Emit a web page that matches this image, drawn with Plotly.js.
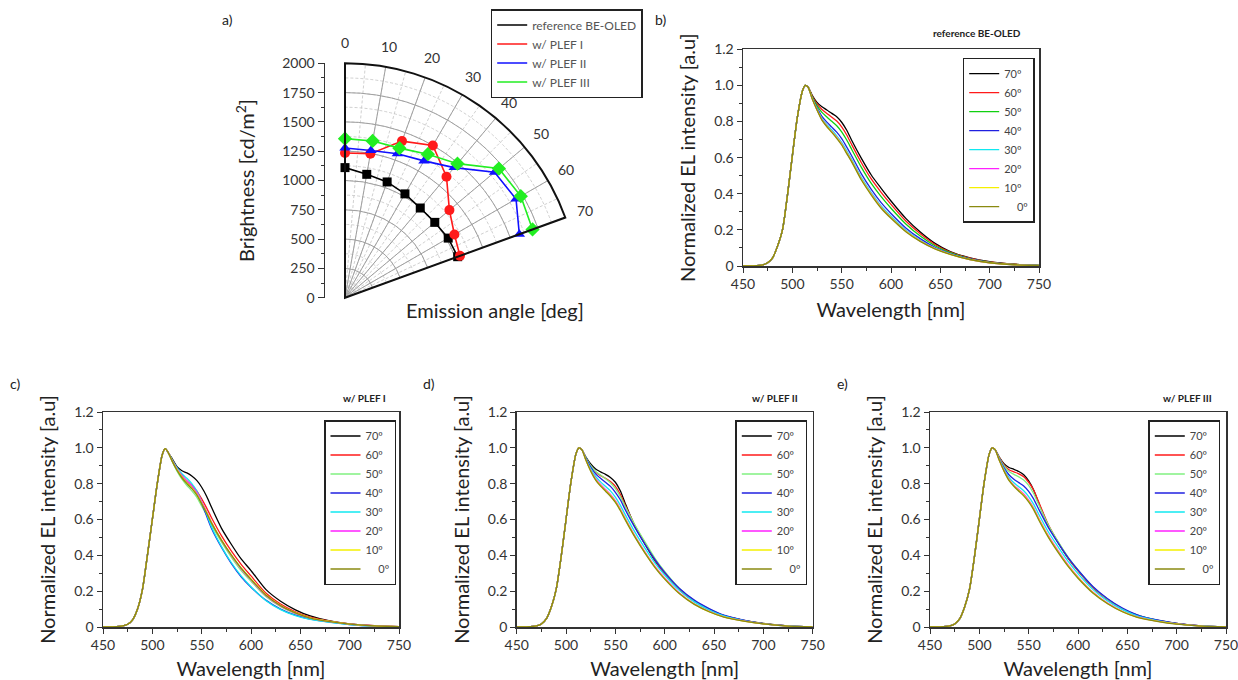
<!DOCTYPE html>
<html><head><meta charset="utf-8">
<script src="https://cdn.plot.ly/plotly-3.0.1.min.js"></script>
<style>html,body{margin:0;padding:0;background:#fff}#chart{width:1238px;height:680px}</style>
</head><body><div id="chart"></div>
<script>
// ---------- Panel a: brightness vs emission angle ----------
const angles   = [0,10,20,30,40,50,60,70];
const brRef    = [1110,1069,1051,1023,999,1000,1017,1023];
const brPlef1  = [1235,1248,1422,1499,1347,1163,1078,1044];
const brPlef2  = [1277,1275,1307,1348,1449,1666,1685,1583];
const brPlef3  = [1357,1358,1358,1414,1493,1714,1732,1703];
const polarNames   = ['reference BE-OLED','w/ PLEF I','w/ PLEF II','w/ PLEF III'];
const polarColors  = ['#000000','#ff1a1a','#1010ff','#22ee22'];
const polarSymbols = ['square','circle','triangle-up','diamond'];
const polarSizes   = [9,10,10,11];
const angleTicks   = ['0','10','20','30','40','50','60','70'];

// ---------- Spectra ----------
const riseWl = [450,460,470,475,480,485,490,495,500,505,510,513,516];
const fallWl = [520,525,530,535,540,545,550,555,560,570,580,590,600,615,630,645,660,680,700,725,750];
const angleLabels = ['70º','60º','50º','40º','30º','20º','10º','\u2007\u20070º'];

// b) reference BE-OLED
const riseB = [0,0.001,0.006,0.018,0.045,0.11,0.20,0.39,0.61,0.82,0.965,1.0,0.99];
const b70 = [0.947,0.906,0.882,0.864,0.845,0.827,0.796,0.753,0.698,0.596,0.504,0.430,0.360,0.264,0.187,0.124,0.080,0.045,0.024,0.010,0.003];
const b60 = [0.943,0.898,0.867,0.845,0.824,0.803,0.771,0.727,0.674,0.572,0.482,0.408,0.341,0.249,0.177,0.118,0.077,0.044,0.023,0.010,0.003];
const b50 = [0.939,0.888,0.851,0.825,0.801,0.777,0.743,0.699,0.648,0.546,0.457,0.384,0.320,0.233,0.165,0.111,0.074,0.041,0.022,0.009,0.003];
const b40 = [0.933,0.876,0.829,0.797,0.769,0.741,0.705,0.660,0.612,0.510,0.424,0.351,0.291,0.211,0.150,0.102,0.069,0.039,0.020,0.008,0.002];
const b30 = [0.930,0.869,0.817,0.782,0.753,0.721,0.685,0.639,0.592,0.490,0.406,0.333,0.276,0.199,0.141,0.098,0.067,0.037,0.019,0.007,0.002];
const b20 = [0.929,0.866,0.812,0.776,0.745,0.713,0.676,0.630,0.584,0.482,0.399,0.326,0.269,0.194,0.138,0.096,0.066,0.036,0.018,0.007,0.002];
const b10 = [0.929,0.865,0.810,0.774,0.743,0.711,0.674,0.628,0.582,0.480,0.396,0.323,0.267,0.192,0.137,0.095,0.065,0.036,0.018,0.007,0.002];
const b0  = [0.928,0.864,0.808,0.771,0.740,0.707,0.670,0.624,0.578,0.476,0.393,0.320,0.264,0.190,0.135,0.094,0.065,0.036,0.018,0.007,0.002];

// c) w/ PLEF I
const riseC = [0,0.001,0.006,0.015,0.04,0.10,0.21,0.40,0.60,0.80,0.96,0.995,0.975];
const c70 = [0.940,0.895,0.872,0.860,0.843,0.818,0.780,0.730,0.668,0.552,0.462,0.380,0.315,0.210,0.144,0.096,0.062,0.034,0.018,0.007,0.002];
const c60 = [0.935,0.885,0.845,0.815,0.790,0.760,0.715,0.665,0.610,0.510,0.425,0.350,0.285,0.190,0.128,0.085,0.055,0.033,0.017,0.007,0.002];
const c50 = [0.925,0.870,0.825,0.790,0.760,0.725,0.675,0.625,0.570,0.475,0.390,0.315,0.255,0.170,0.113,0.075,0.049,0.030,0.016,0.006,0.002];
const c40 = [0.930,0.880,0.840,0.810,0.785,0.745,0.690,0.620,0.550,0.445,0.355,0.280,0.222,0.150,0.100,0.066,0.044,0.027,0.014,0.005,0.002];
const c30 = [0.935,0.890,0.855,0.830,0.800,0.760,0.700,0.630,0.558,0.450,0.360,0.285,0.225,0.148,0.097,0.063,0.042,0.026,0.014,0.005,0.002];
const c20 = [0.930,0.883,0.845,0.815,0.788,0.752,0.700,0.645,0.585,0.485,0.400,0.325,0.263,0.176,0.117,0.078,0.050,0.030,0.016,0.006,0.002];
const c10 = [0.928,0.878,0.838,0.806,0.778,0.742,0.692,0.640,0.583,0.487,0.403,0.330,0.268,0.180,0.120,0.080,0.051,0.031,0.016,0.006,0.002];
const c0  = [0.927,0.875,0.833,0.800,0.772,0.737,0.688,0.636,0.580,0.485,0.402,0.328,0.266,0.179,0.119,0.079,0.050,0.030,0.016,0.006,0.002];

// d) w/ PLEF II
const riseD = [0,0.001,0.006,0.017,0.045,0.11,0.21,0.39,0.60,0.81,0.965,1.0,0.99];
const d70 = [0.950,0.910,0.882,0.866,0.852,0.835,0.808,0.760,0.690,0.560,0.462,0.370,0.298,0.210,0.145,0.100,0.063,0.037,0.020,0.006,0.001];
const d60 = [0.945,0.900,0.865,0.845,0.830,0.812,0.785,0.740,0.680,0.565,0.468,0.375,0.300,0.208,0.142,0.097,0.063,0.037,0.019,0.006,0.001];
const d50 = [0.947,0.900,0.868,0.848,0.828,0.805,0.772,0.728,0.672,0.568,0.475,0.385,0.310,0.215,0.148,0.100,0.064,0.037,0.019,0.006,0.001];
const d40 = [0.943,0.893,0.855,0.830,0.808,0.785,0.752,0.710,0.655,0.553,0.462,0.378,0.305,0.215,0.150,0.103,0.066,0.038,0.019,0.006,0.001];
const d30 = [0.938,0.883,0.840,0.810,0.785,0.760,0.725,0.680,0.627,0.528,0.440,0.358,0.290,0.203,0.140,0.095,0.062,0.036,0.018,0.006,0.001];
const d20 = [0.935,0.875,0.828,0.795,0.768,0.740,0.705,0.660,0.607,0.508,0.420,0.340,0.274,0.190,0.130,0.088,0.057,0.034,0.017,0.005,0.001];
const d10 = [0.934,0.872,0.823,0.790,0.762,0.735,0.700,0.655,0.602,0.503,0.415,0.336,0.270,0.187,0.128,0.086,0.056,0.033,0.017,0.005,0.001];
const d0  = [0.933,0.870,0.820,0.786,0.758,0.730,0.695,0.650,0.598,0.500,0.412,0.333,0.267,0.185,0.126,0.085,0.055,0.033,0.017,0.005,0.001];

// e) w/ PLEF III
const riseE = [0,0.001,0.006,0.017,0.045,0.11,0.21,0.39,0.60,0.81,0.965,1.0,0.99];
const e70 = [0.950,0.912,0.890,0.880,0.868,0.850,0.815,0.765,0.695,0.565,0.470,0.385,0.315,0.222,0.155,0.102,0.066,0.038,0.020,0.006,0.001];
const e60 = [0.948,0.905,0.878,0.866,0.855,0.838,0.808,0.765,0.700,0.570,0.472,0.385,0.313,0.220,0.152,0.100,0.065,0.037,0.019,0.006,0.001];
const e50 = [0.946,0.900,0.868,0.852,0.838,0.820,0.790,0.745,0.685,0.568,0.475,0.390,0.318,0.224,0.155,0.103,0.066,0.038,0.019,0.006,0.001];
const e40 = [0.942,0.890,0.850,0.825,0.806,0.787,0.757,0.715,0.660,0.555,0.468,0.387,0.318,0.226,0.158,0.106,0.068,0.039,0.020,0.006,0.001];
const e30 = [0.938,0.882,0.835,0.805,0.783,0.760,0.728,0.686,0.632,0.530,0.446,0.366,0.298,0.210,0.145,0.097,0.062,0.036,0.018,0.006,0.001];
const e20 = [0.935,0.875,0.825,0.792,0.767,0.742,0.708,0.665,0.610,0.510,0.425,0.347,0.280,0.195,0.133,0.088,0.056,0.033,0.017,0.005,0.001];
const e10 = [0.934,0.872,0.821,0.788,0.762,0.736,0.702,0.660,0.605,0.505,0.420,0.342,0.276,0.192,0.131,0.086,0.055,0.033,0.017,0.005,0.001];
const e0  = [0.933,0.870,0.818,0.785,0.758,0.732,0.698,0.655,0.600,0.500,0.415,0.338,0.272,0.190,0.130,0.085,0.054,0.032,0.016,0.005,0.001];

const colorsB   = ['#000000','#ff1a1a','#10d010','#2020e0','#10e8f0','#ff20ff','#f5f000','#8a8a10'];
const colorsCDE = ['#000000','#ff1a1a','#80f080','#2020e0','#10e8f0','#ff20ff','#f5f000','#8a8a10'];

const panelTitles = ['reference BE-OLED','w/ PLEF I','w/ PLEF II','w/ PLEF III'];

// ---------- build traces ----------
const traces = [];
// invisible trace that anchors the dashed background grid subplot
traces.push({type:'scatterpolar', subplot:'polar', mode:'lines', r:brRef, theta:angles,
  showlegend:false, opacity:0, line:{width:0}, hoverinfo:'skip'});
// invisible trace that anchors the separate brightness scale
traces.push({type:'scatter', mode:'markers', x:brRef.map(() => 0), y:brRef, xaxis:'x5', yaxis:'y5',
  showlegend:false, opacity:0, marker:{size:1}, hoverinfo:'skip'});

const polarSeries = [brRef, brPlef1, brPlef2, brPlef3];
polarSeries.forEach((r, i) => {
  traces.push({type:'scatterpolar', subplot:'polar2', mode:'lines', r:r, theta:angles,
    name:polarNames[i], legend:'legend', line:{color:polarColors[i], width:1.6},
    hoverinfo:'skip'});
});
polarSeries.forEach((r, i) => {
  traces.push({type:'scatterpolar', subplot:'polar2', mode:'markers', r:r, theta:angles,
    showlegend:false, marker:{symbol:polarSymbols[i], size:polarSizes[i], color:polarColors[i]},
    hoverinfo:'skip'});
});

function addSpectra(rise, falls, colors, xa, ya, lg){
  falls.forEach((f, i) => {
    traces.push({type:'scatter', mode:'lines', x:riseWl.concat(fallWl), y:rise.concat(f),
      xaxis:xa, yaxis:ya, legend:lg, name:angleLabels[i],
      line:{color:colors[i], width:1.3, shape:'spline', smoothing:0.7}, hoverinfo:'skip'});
  });
}
addSpectra(riseB, [b70,b60,b50,b40,b30,b20,b10,b0], colorsB,   'x',  'y',  'legend2');
addSpectra(riseC, [c70,c60,c50,c40,c30,c20,c10,c0], colorsCDE, 'x2', 'y2', 'legend3');
addSpectra(riseD, [d70,d60,d50,d40,d30,d20,d10,d0], colorsCDE, 'x3', 'y3', 'legend4');
addSpectra(riseE, [e70,e60,e50,e40,e30,e20,e10,e0], colorsCDE, 'x4', 'y4', 'legend5');

// ---------- layout helpers ----------
const W = 1238, H = 680;
const px = v => v / W;
const py = v => 1 - v / H;
const FONT = 'Lato, "Open Sans", sans-serif';
const AX = '#333';

function xAxis(x0, x1, anchor){
  return {domain:[px(x0), px(x1)], anchor:anchor, range:[450,750], tickmode:'linear', tick0:450, dtick:50,
    ticks:'outside', ticklen:5, tickwidth:1, tickcolor:AX,
    minor:{tickmode:'linear', tick0:450, dtick:25, ticks:'outside', ticklen:3, tickcolor:AX},
    showline:true, mirror:true, linecolor:AX, linewidth:1.5, showgrid:false, zeroline:false,
    tickfont:{size:14, color:'#333'}, automargin:false, ticklabeloverflow:'allow',
    title:{text:'Wavelength [nm]', font:{size:20, color:'#222'}, standoff:11}};
}
function yAxis(y0, y1, anchor){
  return {domain:[py(y1), py(y0)], anchor:anchor, range:[0,1.2], tickmode:'array',
    tickvals:[0,0.2,0.4,0.6,0.8,1.0,1.2], ticktext:['0','0.2','0.4','0.6','0.8','1.0','1.2'],
    ticks:'outside', ticklen:5, tickwidth:1, tickcolor:AX,
    minor:{tickmode:'linear', tick0:0, dtick:0.1, ticks:'outside', ticklen:3, tickcolor:AX},
    showline:true, mirror:true, linecolor:AX, linewidth:1.5, showgrid:false, zeroline:false,
    tickfont:{size:14, color:'#333'}, automargin:false, ticklabeloverflow:'allow',
    title:{text:'Normalized EL intensity [a.u]', font:{size:20, color:'#222'}, standoff:13}};
}
function specLegend(x0, y0){
  return {x:px(x0), y:py(y0), xanchor:'left', yanchor:'top', bgcolor:'#fff',
    bordercolor:'#222', borderwidth:1.5, font:{size:11, color:'#444', family:FONT},
    tracegroupgap:0};
}
function ann(text, x, y, size, extra){
  return Object.assign({text:text, x:px(x), y:py(y), xref:'paper', yref:'paper',
    showarrow:false, xanchor:'center', yanchor:'middle', font:{size:size, color:'#222', family:FONT}}, extra||{});
}

const polarCx = 345, polarCy = 297.7, polarR = 234.4;
const polarDomain = {x:[px(polarCx), px(polarCx + polarR*Math.cos(20*Math.PI/180))], y:[py(polarCy), py(polarCy - polarR)]};

// angular tick labels placed just outside the arc
const angleAnns = angles.map((a, i) => {
  const t = a * Math.PI / 180, R = polarR + 21;
  return ann(angleTicks[i], polarCx + R*Math.sin(t), polarCy - R*Math.cos(t), 14, {font:{size:14, color:'#333', family:FONT}});
});

const layout = {
  width:W, height:H, margin:{l:0, r:0, t:0, b:0},
  paper_bgcolor:'#fff', plot_bgcolor:'rgba(0,0,0,0)',
  font:{family:FONT, color:'#333', size:14},
  showlegend:true,
  polar:{domain:polarDomain, sector:[20,90], bgcolor:'#fff',
    angularaxis:{rotation:90, direction:'clockwise', tickmode:'linear', tick0:0, dtick:5,
      showgrid:true, gridcolor:'#c4c4c4', griddash:'3px,2px', gridwidth:0.8,
      showline:false, ticks:'', showticklabels:false},
    radialaxis:{range:[0,2000], tickmode:'linear', tick0:0, dtick:125, showgrid:true,
      gridcolor:'#c4c4c4', griddash:'3px,2px', gridwidth:0.8, showline:false, showticklabels:false, ticks:''}},
  polar2:{domain:polarDomain, sector:[20,90], bgcolor:'rgba(0,0,0,0)',
    angularaxis:{rotation:90, direction:'clockwise', tickmode:'linear', tick0:0, dtick:10,
      showgrid:true, gridcolor:'#a0a0a0', gridwidth:1, showline:true, linecolor:'#111', linewidth:2,
      ticks:'', showticklabels:false},
    radialaxis:{range:[0,2000], tickmode:'linear', tick0:0, dtick:250, showgrid:true,
      gridcolor:'#a0a0a0', gridwidth:1, showline:false, showticklabels:false, ticks:''}},
  xaxis:  xAxis(743, 1039, 'y'),
  yaxis:  yAxis(49.3, 266, 'x'),
  xaxis2: xAxis(103, 399, 'y2'),
  yaxis2: yAxis(412, 627, 'x2'),
  xaxis3: xAxis(516.7, 812.7, 'y3'),
  yaxis3: yAxis(412, 627, 'x3'),
  xaxis4: xAxis(930, 1226, 'y4'),
  yaxis4: yAxis(412, 627, 'x4'),
  xaxis5: {domain:[px(325), px(327)], anchor:'y5', visible:false, range:[-1,1], fixedrange:true},
  yaxis5: {domain:[py(polarCy), py(polarCy - polarR)], anchor:'x5', range:[0,2000], tickmode:'linear', tick0:0, dtick:250,
    ticks:'outside', ticklen:6, tickcolor:AX,
    minor:{tickmode:'linear', tick0:0, dtick:125, ticks:'outside', ticklen:3, tickcolor:AX},
    showline:true, linecolor:AX, linewidth:1.5, showgrid:false, zeroline:false,
    tickfont:{size:14, color:'#333'}, automargin:false,
    title:{text:'Brightness [cd/m<sup>2</sup>]', font:{size:20, color:'#222'}, standoff:22}},
  legend:{x:px(490.7), y:py(9), xanchor:'left', yanchor:'top', bgcolor:'#fff',
    bordercolor:'#222', borderwidth:1.5, font:{size:12, color:'#555', family:FONT}},
  legend2: specLegend(962.7, 57.7),
  legend3: specLegend(324, 420),
  legend4: specLegend(735.3, 420),
  legend5: specLegend(1148.3, 420),
  annotations:[
    ann('a)', 227, 19, 14),
    ann('b)', 660, 19, 14),
    ann('c)', 15, 383, 14),
    ann('d)', 429, 383, 14),
    ann('e)', 842, 383, 14),
    ann('<b>'+panelTitles[0]+'</b>', 976.7, 33.3, 10),
    ann('<b>'+panelTitles[1]+'</b>', 364, 397.7, 10),
    ann('<b>'+panelTitles[2]+'</b>', 775, 397.7, 10),
    ann('<b>'+panelTitles[3]+'</b>', 1187.5, 397.7, 10),
    ann('Emission angle [deg]', 495, 310, 20)
  ].concat(angleAnns)
};

Plotly.newPlot('chart', traces, layout, {displayModeBar:false, staticPlot:true});
</script>
</body></html>
